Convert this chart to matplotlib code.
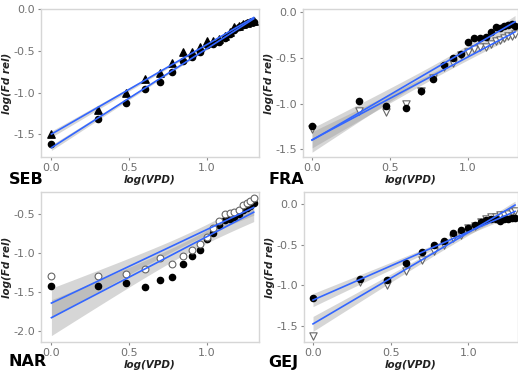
import matplotlib
matplotlib.use("Agg")
import matplotlib.pyplot as plt
import numpy as np

# x = log(VPD), shared by every panel
vpd = [0.0, 0.301, 0.477, 0.602, 0.699, 0.778, 0.845, 0.903, 0.954, 1.0,
       1.041, 1.079, 1.114, 1.146, 1.176, 1.204, 1.230, 1.255, 1.279, 1.301]

# SEB
seb_tri = [-1.50, -1.21, -1.01, -0.84, -0.76, -0.65, -0.52, -0.51, -0.45, -0.38,
           -0.38, -0.36, -0.32, -0.28, -0.22, -0.20, -0.18, -0.17, -0.15, -0.14]
seb_circ = [-1.62, -1.32, -1.13, -0.96, -0.87, -0.75, -0.62, -0.58, -0.51, -0.43,
            -0.42, -0.40, -0.35, -0.30, -0.25, -0.22, -0.19, -0.17, -0.15, -0.15]
# FRA
fra_circ = [-1.24, -0.97, -1.03, -1.045, -0.86, -0.73, -0.58, -0.50, -0.46, -0.33,
            -0.28, -0.28, -0.27, -0.22, -0.16, -0.17, -0.15, -0.14, -0.13, -0.15]
fra_tri = [-1.28, -1.08, -1.09, -1.00, -0.86, -0.72, -0.60, -0.55, -0.47, -0.43,
           -0.40, -0.38, -0.38, -0.35, -0.31, -0.30, -0.28, -0.26, -0.26, -0.24]
# NAR
nar_circ = [-1.42, -1.42, -1.38, -1.44, -1.35, -1.31, -1.14, -1.04, -0.96, -0.82,
            -0.74, -0.64, -0.58, -0.56, -0.54, -0.50, -0.45, -0.42, -0.40, -0.36]
nar_open = [-1.30, -1.30, -1.27, -1.20, -1.07, -1.14, -1.04, -0.96, -0.88, -0.79,
            -0.68, -0.59, -0.50, -0.49, -0.48, -0.45, -0.38, -0.36, -0.33, -0.29]
# GEJ
gej_circ = [-1.16, -0.92, -0.94, -0.73, -0.59, -0.50, -0.45, -0.36, -0.32, -0.29,
            -0.26, -0.22, -0.20, -0.19, -0.18, -0.21, -0.19, -0.18, -0.17, -0.17]
gej_tri = [-1.63, -0.96, -1.00, -0.82, -0.69, -0.58, -0.50, -0.42, -0.38, -0.30,
           -0.27, -0.22, -0.18, -0.16, -0.16, -0.14, -0.14, -0.12, -0.10, -0.08]

site_names = ["SEB", "FRA", "NAR", "GEJ"]
yticks_all = [[0.0, -0.5, -1.0, -1.5], [0.0, -0.5, -1.0, -1.5],
              [-0.5, -1.0, -1.5, -2.0], [0.0, -0.5, -1.0, -1.5]]
xticks = [0.0, 0.5, 1.0]

W, H = 518, 372
fig = plt.figure(figsize=(W / 100, H / 100), dpi=100)

def box(l, t, r, b):
    return [l / W, 1 - b / H, (r - l) / W, (b - t) / H]

def smooth(ax, x, y):
    # lm fit with 95% band, like geom_smooth(method="lm")
    x = np.asarray(x)
    y = np.asarray(y)
    n = len(x)
    b, a = np.polyfit(x, y, 1)
    res = y - (a + b * x)
    s = np.sqrt(np.sum(res ** 2) / (n - 2))
    xs = np.linspace(x.min(), x.max(), 80)
    sxx = np.sum((x - x.mean()) ** 2)
    se = s * np.sqrt(1 / n + (xs - x.mean()) ** 2 / sxx)
    fit = a + b * xs
    ax.fill_between(xs, fit - 2.1 * se, fit + 2.1 * se, color="#999999",
                    alpha=0.4, lw=0, zorder=1)
    ax.plot(xs, fit, color="#3366FF", lw=1.2, zorder=4)

def style(ax, ylim, yt, xlim):
    ax.set_xlim(*xlim)
    ax.set_ylim(*ylim)
    ax.set_xticks(xticks)
    ax.set_xticklabels(["%.1f" % v for v in xticks])
    ax.set_yticks(yt)
    ax.set_yticklabels(["%.1f" % v for v in yt])
    for sp in ax.spines.values():
        sp.set_color("#d6d6d6")
        sp.set_linewidth(1.0)
    ax.tick_params(colors="#8a8a8a", labelcolor="#707070", labelsize=8,
                   length=2.5, width=0.8, pad=2)
    ax.set_xlabel("log(VPD)", fontsize=7.5, fontweight="bold", style="italic",
                  color="#222222", labelpad=1)
    ax.set_ylabel("log(Fd rel)", fontsize=7.5, fontweight="bold", style="italic",
                  color="#222222", labelpad=1)

ms_c = 20
ms_t = 28
blk = "black"
opn = dict(facecolors="white", edgecolors="#666666", linewidths=0.8)

# SEB
ax1 = fig.add_axes(box(41, 9, 259, 157))
smooth(ax1, vpd, seb_tri)
smooth(ax1, vpd, seb_circ)
ax1.scatter(vpd, seb_tri, marker="^", s=ms_t, color=blk, zorder=3)
ax1.scatter(vpd, seb_circ, marker="o", s=ms_c, color=blk, zorder=3)
style(ax1, (-1.77, 0.0), yticks_all[0], (-0.067, 1.335))

# FRA
ax2 = fig.add_axes(box(303, 9, 518, 157))
smooth(ax2, vpd, fra_tri)
smooth(ax2, vpd, fra_circ)
ax2.scatter(vpd, fra_tri, marker="v", s=ms_t, zorder=2, **opn)
ax2.scatter(vpd, fra_circ, marker="o", s=ms_c, color=blk, zorder=3)
style(ax2, (-1.585, 0.036), yticks_all[1], (-0.058, 1.32))

# NAR
ax3 = fig.add_axes(box(41, 192, 259, 342))
smooth(ax3, vpd, nar_open)
smooth(ax3, vpd, nar_circ)
ax3.scatter(vpd, nar_circ, marker="o", s=ms_c, color=blk, zorder=2)
ax3.scatter(vpd, nar_open, marker="o", s=ms_c + 4, zorder=3, **opn)
style(ax3, (-2.14, -0.218), yticks_all[2], (-0.067, 1.335))

# GEJ
ax4 = fig.add_axes(box(304, 192, 518, 342))
smooth(ax4, vpd, gej_tri)
smooth(ax4, vpd, gej_circ)
ax4.scatter(vpd, gej_tri, marker="v", s=ms_t, zorder=2, **opn)
ax4.scatter(vpd, gej_circ, marker="o", s=ms_c, color=blk, zorder=3)
style(ax4, (-1.70, 0.148), yticks_all[3], (-0.058, 1.32))

# panel labels
label_pos = [(9, 180), (268, 180), (9, 362), (268, 362)]
for name, (px, py) in zip(site_names, label_pos):
    fig.text(px / W, 1 - py / H, name, fontsize=11.5, fontweight="bold",
             va="center", ha="left", color="black")

fig.savefig("out.png", dpi=100)
